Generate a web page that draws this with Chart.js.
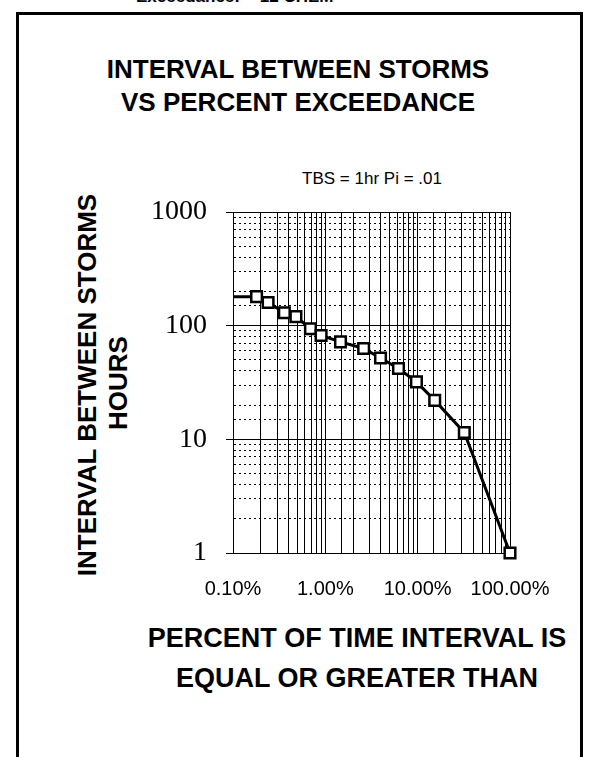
<!DOCTYPE html>
<html>
<head>
<meta charset="utf-8">
<script src="https://cdn.jsdelivr.net/npm/chart.js@4.4.1/dist/chart.umd.min.js"></script>
<style>
html,body{margin:0;padding:0;background:#fff;}
body{width:591px;height:757px;position:relative;overflow:hidden;font-family:'Liberation Sans',Arial,sans-serif;}
#frame{position:absolute;left:16px;top:12px;width:567px;height:800px;border:3px solid #000;box-sizing:border-box;}
.t{position:absolute;white-space:nowrap;color:#000;font-weight:bold;transform:translate(-50%,-50%);line-height:1;}
.r{transform:translate(-50%,-50%) rotate(-90deg);}
.n{font-weight:normal;}
#cut{position:absolute;left:136px;top:-13px;font-size:17px;font-weight:bold;white-space:nowrap;}
canvas{position:absolute;left:0;top:0;}
</style>
</head>
<body>
<div id="cut">Exceedance:&nbsp;&nbsp;- 12 CHEM&nbsp;&nbsp;&nbsp;-&nbsp;&nbsp;&nbsp;-</div>
<div id="frame"></div>
<div class="t" style="left:298px;top:69px;font-size:26px">INTERVAL BETWEEN STORMS</div>
<div class="t" style="left:298px;top:102px;font-size:26px">VS PERCENT EXCEEDANCE</div>
<div class="t n" id="sub" style="left:372px;top:178px;font-size:17px"></div>
<div class="t r" style="left:87px;top:385px;font-size:26px">INTERVAL BETWEEN STORMS</div>
<div class="t r" style="left:118px;top:383px;font-size:26px">HOURS</div>
<div class="t" style="left:357px;top:638px;font-size:27px">PERCENT OF TIME INTERVAL IS</div>
<div class="t" style="left:357px;top:678px;font-size:27px">EQUAL OR GREATER THAN</div>
<canvas id="c" width="591" height="757"></canvas>
<script>
// ---- data ----
const percentExceeded = [0.1, 0.18, 0.24, 0.36, 0.48, 0.69, 0.9, 1.46, 2.6, 3.96, 6.2, 9.7, 15.3, 32, 100];
const intervalHours   = [180, 180, 160, 130, 120, 94, 82, 72, 63, 52, 42, 32, 22, 11.5, 1];
const xTickLabels = ['0.10%', '1.00%', '10.00%', '100.00%']; // decades 0.1 .. 100
const yTickLabels = ['1', '10', '100', '1000'];              // decades 1 .. 1000
const chartSubtitle = 'TBS = 1hr  Pi = .01';

document.getElementById('sub').textContent = chartSubtitle;

function decade(v){ const d = Math.log10(v); const r = Math.round(d); return Math.abs(d - r) < 1e-6 ? r : null; }

const points = percentExceeded.map((x, i) => ({x: x, y: intervalHours[i]}));

new Chart(document.getElementById('c'), {
  type: 'line',
  data: {
    datasets: [{
      data: points,
      borderColor: '#000',
      borderWidth: 3,
      tension: 0,
      pointStyle: 'rect',
      pointRadius: ctx => ctx.dataIndex === 0 ? 0 : 7.5,
      pointBorderWidth: 2.5,
      pointBorderColor: '#000',
      pointBackgroundColor: '#fff',
      clip: false
    }]
  },
  options: {
    responsive: false,
    animation: false,
    devicePixelRatio: 1,
    layout: { padding: { left: 0, right: 81, top: 212, bottom: 144 } },
    plugins: { legend: { display: false }, tooltip: { enabled: false }, title: { display: false } },
    scales: {
      x: {
        type: 'logarithmic',
        position: 'bottom',
        min: 0.1, max: 100,
        grid: { color: '#000', lineWidth: 1, drawTicks: false },
        border: { display: true, color: '#000', width: 1 },
        ticks: {
          autoSkip: false, maxRotation: 0, minRotation: 0, padding: 24, color: '#000',
          font: { family: 'Liberation Sans', size: 20 },
          callback: v => { const d = decade(v); return d === null ? '' : xTickLabels[d + 1]; }
        },
        afterFit: s => { s.height = 60; }
      },
      y: {
        type: 'logarithmic',
        position: 'left',
        min: 1, max: 1000,
        grid: {
          color: '#000', lineWidth: 1, drawTicks: true, tickLength: 7,
          tickColor: ctx => (ctx.tick && decade(ctx.tick.value) !== null) ? '#000' : 'rgba(0,0,0,0)'
        },
        border: {
          display: true, color: '#000', width: 1,
          dash: ctx => (ctx.tick && decade(ctx.tick.value) === null) ? [2, 3] : []
        },
        ticks: {
          autoSkip: false, padding: 19, color: '#000',
          font: { family: 'Liberation Serif', size: 28 },
          callback: v => { const d = decade(v); return d === null ? '' : yTickLabels[d]; }
        },
        afterFit: s => { s.width = 233; }
      }
    }
  }
});
</script>
</body>
</html>
